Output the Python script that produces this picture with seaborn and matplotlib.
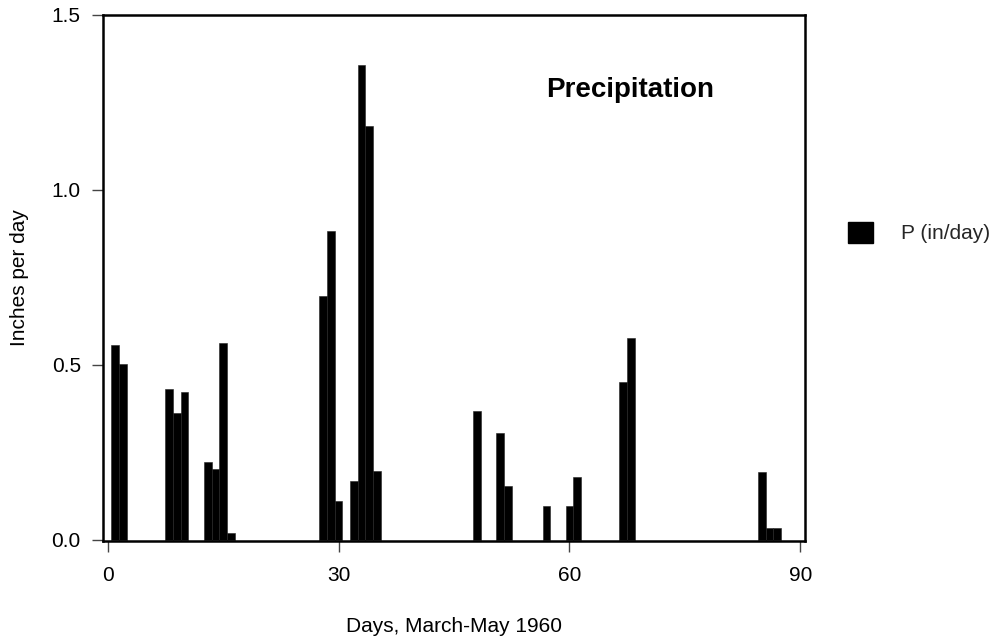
import numpy as np
import pandas as pd
import seaborn as sns
import matplotlib.pyplot as plt
from matplotlib.patches import Patch

# daily precipitation, March-May 1960 (only the wet days)
days = [1, 2, 8, 9, 10, 13, 14, 15, 16, 28, 29, 30, 32, 33, 34, 35,
        48, 51, 52, 57, 60, 61, 67, 68, 85, 86, 87]
precip = [0.557, 0.502, 0.431, 0.362, 0.424, 0.222, 0.202, 0.562, 0.021,
          0.697, 0.884, 0.112, 0.168, 1.357, 1.184, 0.196,
          0.369, 0.306, 0.153, 0.098, 0.098, 0.180, 0.451, 0.577,
          0.195, 0.035, 0.035]
xticks = [0, 30, 60, 90]
yticks = [0.0, 0.5, 1.0, 1.5]


def myplot():
	sns.set_style("white")
	plt.rcParams['font.family'] = ['Liberation Sans', 'DejaVu Sans']
	fig = plt.figure(figsize=(10, 6.38), dpi=100)
	ax = fig.add_axes([0.103, 0.152, 0.702, 0.8245])

	df = pd.DataFrame({'day': days, 'P': precip})
	sns.barplot(data=df, x='day', y='P', native_scale=True, width=1,
				color='black', saturation=1, edgecolor='#222222', linewidth=0.4, ax=ax)

	ax.set_xlim(-0.6, 90.6)
	ax.set_ylim(-0.003, 1.5)
	ax.set_xticks(xticks)
	ax.set_xticklabels([str(t) for t in xticks])
	ax.set_yticks(yticks)
	ax.set_yticklabels(['%.1f' % t for t in yticks])
	ax.tick_params(axis='both', direction='out', length=8, width=1, color='#444444',
				   labelsize=15, labelcolor='black', bottom=True, left=True)
	ax.tick_params(axis='x', pad=10)
	ax.tick_params(axis='y', pad=8)
	for s in ax.spines.values():
		s.set_color('black')
		s.set_linewidth(1.8)

	ax.set_xlabel('Days, March-May 1960', fontsize=15, color='black')
	ax.set_ylabel('Inches per day', fontsize=15, color='black')
	ax.xaxis.set_label_coords(0.5, -0.145)
	ax.yaxis.set_label_coords(-0.106, 0.5)
	ax.text(0.631, 0.844, 'Precipitation', transform=ax.transAxes, fontsize=20,
			fontweight='bold', va='baseline', ha='left', color='black')

	handle = Patch(facecolor='black', edgecolor='black')
	fig.legend(handles=[handle], labels=['P (in/day)'], loc='center left',
			   bbox_to_anchor=(0.848, 0.6356), frameon=False, fontsize=15,
			   borderpad=0, borderaxespad=0,
			   handlelength=1.2, handleheight=1.2, handletextpad=1.35)

	plt.savefig('out.png', dpi=100)


myplot()
